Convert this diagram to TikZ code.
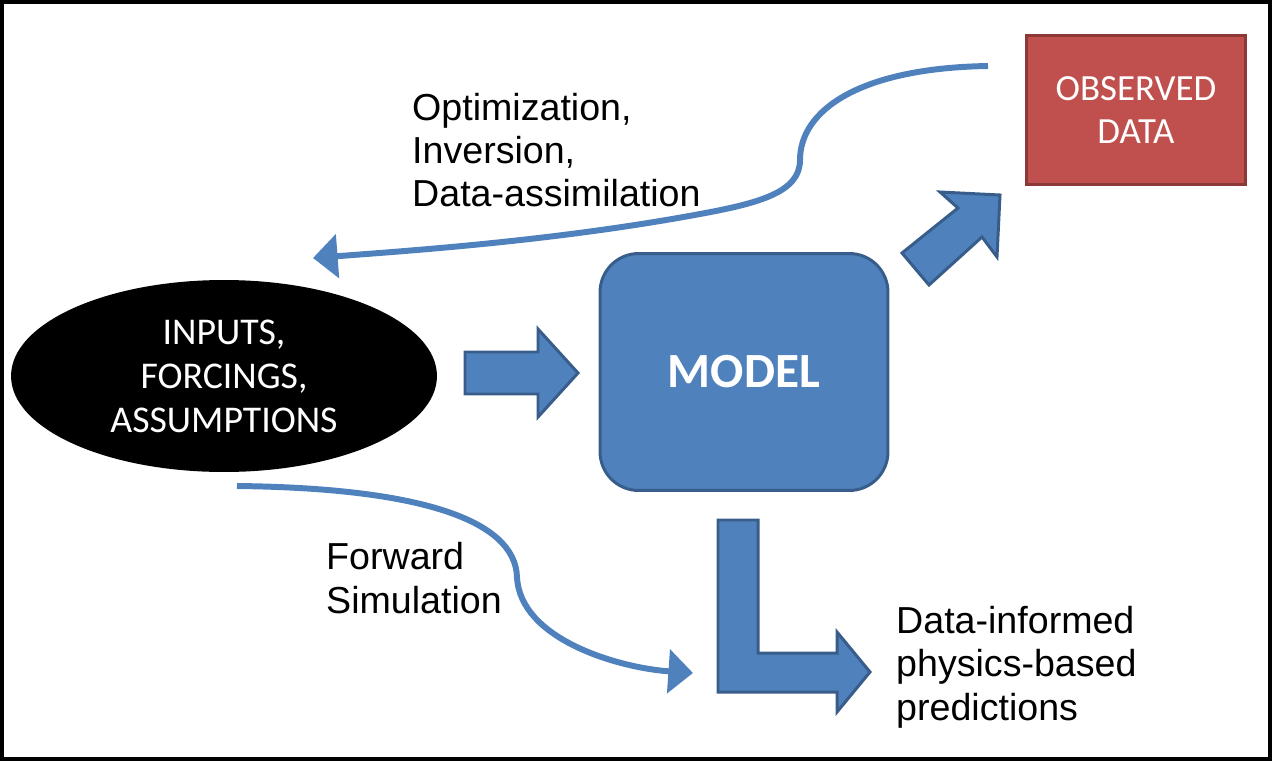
\documentclass[tikz,border=0pt]{standalone}
\usepackage{fontspec}
\setmainfont{Liberation Sans}
\newfontfamily\calibri{Carlito}
\usetikzlibrary{arrows.meta, positioning, shapes.geometric}
\definecolor{modelblue}{HTML}{4F81BD}
\definecolor{modeledge}{HTML}{385D8A}
\definecolor{obsred}{HTML}{C0504D}
\definecolor{obsedge}{HTML}{8C3836}

\begin{document}
\begin{tikzpicture}[
        x=0.02cm, y=-0.02cm,
        >=Latex,
        every node/.style={
            font=\fontsize{21.4}{24.7}\selectfont,
            align=left
        },
        entrada/.style={
            ellipse,
            fill=black,
            text=white,
            minimum width=8.52cm,
            minimum height=3.84cm,
            inner sep=0pt,
            align=center,
            font=\calibri\fontsize{21.5}{25}\selectfont
        },
        modelo/.style={
            draw=modeledge,
            fill=modelblue,
            line width=1.7pt,
            rounded corners=22pt,
            minimum width=5.76cm,
            minimum height=4.74cm,
            text=white,
            font=\calibri\bfseries\fontsize{28}{32}\selectfont
        },
        dados/.style={
            draw=obsedge,
            fill=obsred,
            line width=1.7pt,
            minimum width=4.38cm,
            minimum height=3.0cm,
            text=white,
            align=center,
            font=\calibri\fontsize{21}{24.4}\selectfont
        },
        bloco/.style={
            draw=modeledge,
            fill=modelblue,
            line width=1.7pt,
            line join=miter
        },
        curva/.style={
            -{Triangle[length=14pt, width=24.5pt]},
            draw=modelblue,
            line width=3.4pt
        }
    ]

    \useasboundingbox (0,0) rectangle (1272,761);
    \draw[line width=2.3pt] (2,2) rectangle (1270,759);

    \node[entrada] (inputs) at (224,376) {INPUTS,\\FORCINGS,\\ASSUMPTIONS};

    \node[modelo] (model) at (744,372) {MODEL};

    \node[dados] (observed) at (1136,110) {OBSERVED\\DATA};

    \node[anchor=west] (otimizacao) at (406,150) {Optimization,\\Inversion,\\Data-assimilation};

    \node[anchor=west] (forward) at (320,578) {Forward\\Simulation};

    \node[anchor=west] (previsoes) at (890,667) {Data-informed\\physics-based\\predictions};

    % block arrows
    \draw[bloco] (465,352) -- (538,352) -- (538,329) -- (578,373)
        -- (538,417) -- (538,394) -- (465,394) -- cycle;
    \draw[bloco] (902,253) -- (958,208) -- (940,192) -- (1000,195)
        -- (997,257) -- (982,237) -- (929,285) -- cycle;
    \draw[bloco] (718,520) -- (758,520) -- (758,653) -- (837,653)
        -- (837,632) -- (870,672) -- (837,712) -- (837,692) -- (718,692) -- cycle;

    % curved connectors
    \coordinate (obs-saida) at (988,66);
    \coordinate (inp-chegada) at (313,258);
    \coordinate (inp-saida) at (237,486);
    \coordinate (pred-chegada) at (693,673);

    \draw[curva] (obs-saida) .. controls (860,68) and (800,110) .. (800,160)
        .. controls (800,192) and (760,203) .. (700,214)
        .. controls (560,240) and (420,250) .. (inp-chegada);
    \draw[curva] (inp-saida) .. controls (420,488) and (515,520) .. (517,577)
        .. controls (520,640) and (620,668) .. (pred-chegada);

    \end{tikzpicture}
\end{document}
